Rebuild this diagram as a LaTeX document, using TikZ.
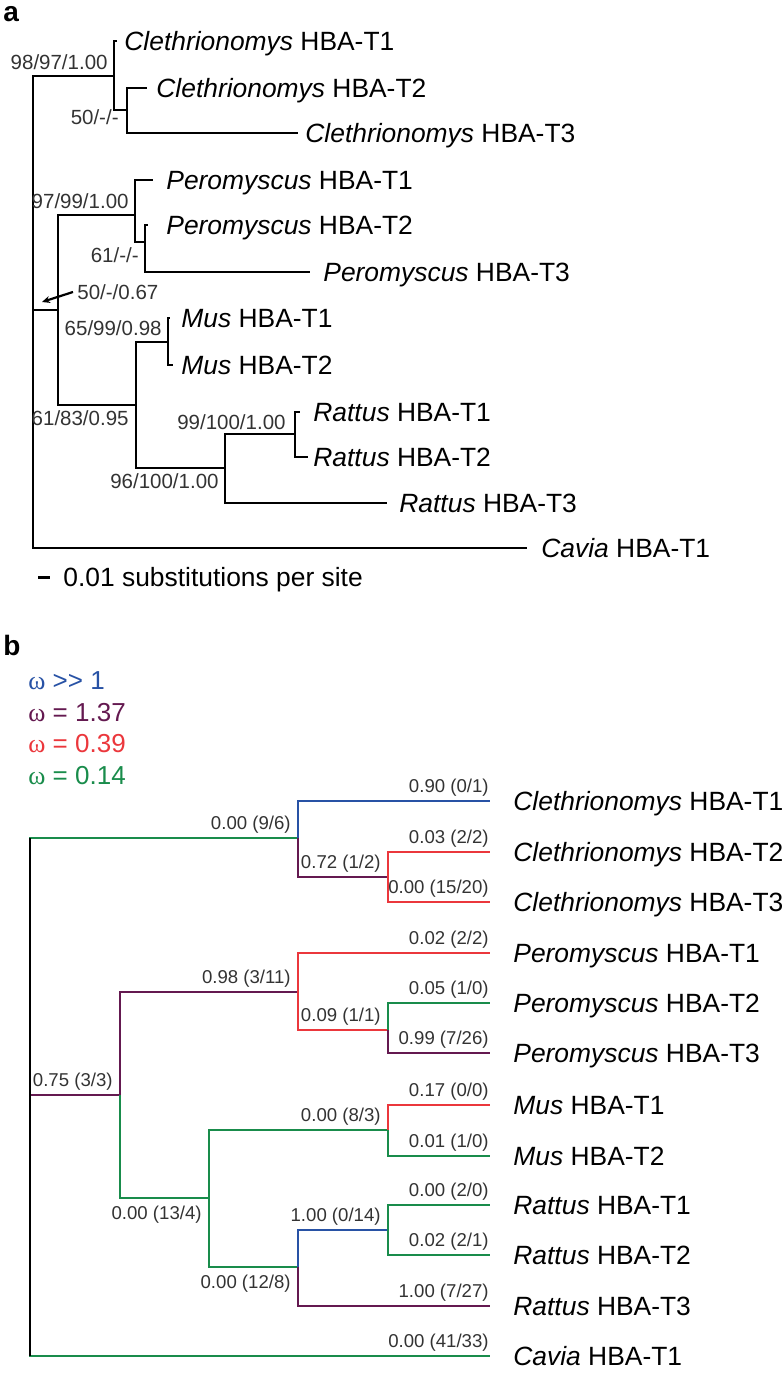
\documentclass[tikz,border=0pt]{standalone}
\usepackage{fontspec}
\setmainfont{Liberation Sans}
\newfontfamily\omegafont{Liberation Serif}
\usetikzlibrary{positioning,arrows.meta}

\definecolor{omblue}{RGB}{40,82,165}
\definecolor{ompurple}{RGB}{100,25,80}
\definecolor{omred}{RGB}{235,55,60}
\definecolor{omgreen}{RGB}{25,140,75}

\tikzset{
  panlab/.style={anchor=base west, inner sep=0pt, font=\fontsize{14}{16}\selectfont\bfseries},
  leaf/.style={anchor=west, inner sep=0pt, text height=9.5pt, text depth=0pt, font=\fontsize{13.2}{15}\selectfont},
  suplab/.style={anchor=east, inner sep=0pt, text height=7.4pt, text depth=0pt, text=black!80, font=\fontsize{10.25}{12}\selectfont},
  supup/.style={suplab, xshift=-2.5pt, yshift=7pt},
  supdn/.style={suplab, xshift=-2.5pt, yshift=-6.5pt},
  brlab/.style={anchor=east, inner sep=0pt, text height=6.7pt, text depth=0pt, text=black!80, font=\fontsize{9.3}{11}\selectfont},
  bup/.style={brlab, xshift=-3pt, yshift=7.5pt},
  bleaf/.style={brlab, xshift=0pt, yshift=7.5pt},
  bdn/.style={brlab, xshift=-3pt, yshift=-7.5pt},
  legend/.style={anchor=west, inner sep=0pt, text height=9.5pt, text depth=0pt, font=\fontsize{13}{15}\selectfont}
}

\begin{document}
\begin{tikzpicture}[x=0.5pt, y=-0.5pt, line width=1.4pt]
        \useasboundingbox (0,0) rectangle (783,1374);

        % a
        \node[panlab] (pa) at (2,22) {a};

        \coordinate (aroot) at (33,310);
        \coordinate (aC) at (114,76);
        \coordinate (aC1) at (117,41);
        \coordinate (aCx) at (127,110);
        \coordinate (aC2) at (147,88);
        \coordinate (aC3) at (298,133);
        \coordinate (aPMR) at (58,310);
        \coordinate (aP) at (135,215);
        \coordinate (aP1) at (153,180);
        \coordinate (aPx) at (145,242);
        \coordinate (aP2) at (148,225);
        \coordinate (aP3) at (310,272);
        \coordinate (aMR) at (136,405);
        \coordinate (aM) at (168,342);
        \coordinate (aM1) at (170,318);
        \coordinate (aM2) at (173,365);
        \coordinate (aR) at (225,468);
        \coordinate (aRx) at (295,434);
        \coordinate (aR1) at (300,412);
        \coordinate (aR2) at (308,457);
        \coordinate (aR3) at (387,503);
        \coordinate (aCav) at (527,548);

        \draw (aroot) |- (aC);
        \draw (aroot) |- (aPMR);
        \draw (aroot) |- (aCav);
        \draw (aC) |- (aC1);
        \draw (aC) |- (aCx);
        \draw (aCx) |- (aC2);
        \draw (aCx) |- (aC3);
        \draw (aPMR) |- (aP);
        \draw (aPMR) |- (aMR);
        \draw (aP) |- (aP1);
        \draw (aP) |- (aPx);
        \draw (aPx) |- (aP2);
        \draw (aPx) |- (aP3);
        \draw (aMR) |- (aM);
        \draw (aMR) |- (aR);
        \draw (aM) |- (aM1);
        \draw (aM) |- (aM2);
        \draw (aR) |- (aRx);
        \draw (aR) |- (aR3);
        \draw (aRx) |- (aR1);
        \draw (aRx) |- (aR2);

        \node[leaf, right=3pt of aC1] (taC1) {\itshape Clethrionomys\/\upshape{} HBA-T1};
        \node[leaf, right=4pt of aC2] (taC2) {\itshape Clethrionomys\/\upshape{} HBA-T2};
        \node[leaf, right=3pt of aC3] (taC3) {\itshape Clethrionomys\/\upshape{} HBA-T3};
        \node[leaf, right=6pt of aP1] (taP1) {\itshape Peromyscus\/\upshape{} HBA-T1};
        \node[leaf, right=8.5pt of aP2] (taP2) {\itshape Peromyscus\/\upshape{} HBA-T2};
        \node[leaf, right=6pt of aP3] (taP3) {\itshape Peromyscus\/\upshape{} HBA-T3};
        \node[leaf, right=5pt of aM1] (taM1) {\itshape Mus\/\upshape{} HBA-T1};
        \node[leaf, right=3.5pt of aM2] (taM2) {\itshape Mus\/\upshape{} HBA-T2};
        \node[leaf, right=6pt of aR1] (taR1) {\itshape Rattus\/\upshape{} HBA-T1};
        \node[leaf, right=2pt of aR2] (taR2) {\itshape Rattus\/\upshape{} HBA-T2};
        \node[leaf, right=5.5pt of aR3] (taR3) {\itshape Rattus\/\upshape{} HBA-T3};
        \node[leaf, right=6.5pt of aCav] (taCav) {\itshape Cavia\/\upshape{} HBA-T1};

        \node[supup] (saC) at (aC) {98/97/1.00};
        \node[suplab, xshift=-3.5pt, yshift=-3.5pt] (saCx) at (aCx) {50/-/-};
        \node[supup] (saP) at (aP) {97/99/1.00};
        \node[supdn] (saPx) at (aPx) {61/-/-};
        \node[supup] (saM) at (aM) {65/99/0.98};
        \node[supdn, xshift=-0.5pt] (saMR) at (aMR) {61/83/0.95};
        \node[supdn] (saR) at (aR) {96/100/1.00};
        \node[supup, xshift=-1.5pt, yshift=-1pt] (saRx) at (aRx) {99/100/1.00};

        \coordinate (aarr) at (42,302);
        \node[suplab, anchor=west, inner xsep=1.5pt] (sarr) at (73,292) {50/-/0.67};
        \draw[line width=1.1pt, -{Stealth[length=4pt, width=3.5pt]}] (sarr.west) -- (aarr);

        \coordinate (sb1) at (38,577);
        \coordinate (sb2) at (50,577);
        \draw[line width=1.5pt] (sb1) -- (sb2);
        \node[leaf, right=6pt of sb2] (tsb) {0.01 substitutions per site};

        % b
        \node[panlab] (pb) at (2,655) {b};

        \node[legend, text=omblue] (w1) at (27,680) {{\omegafont ω} >{}> 1};
        \node[legend, text=ompurple] (w2) at (27,712) {{\omegafont ω} = 1.37};
        \node[legend, text=omred] (w3) at (27,743) {{\omegafont ω} = 0.39};
        \node[legend, text=omgreen] (w4) at (27,775) {{\omegafont ω} = 0.14};

        \coordinate (broot) at (30,1095);
        \coordinate (bCb) at (298,838);
        \coordinate (bC1) at (490,801);
        \coordinate (bCc) at (388,877);
        \coordinate (bC2) at (490,852);
        \coordinate (bC3) at (490,902);
        \coordinate (bPMR) at (120,1095);
        \coordinate (bPa) at (298,992);
        \coordinate (bP1) at (490,953);
        \coordinate (bPb) at (388,1030);
        \coordinate (bP2) at (490,1003);
        \coordinate (bP3) at (490,1053);
        \coordinate (bMR) at (209,1198);
        \coordinate (bM) at (388,1130);
        \coordinate (bM1) at (490,1105);
        \coordinate (bM2) at (490,1156);
        \coordinate (bRb) at (298,1267);
        \coordinate (bRx) at (388,1230);
        \coordinate (bR1) at (490,1205);
        \coordinate (bR2) at (490,1255);
        \coordinate (bR3) at (490,1306);
        \coordinate (bCav) at (490,1356);

        \draw[omgreen] (broot) |- (bCb);
        \draw[ompurple] (broot) |- (bPMR);
        \draw[omgreen] (broot) |- (bCav);
        \draw[black] (bCb -| broot) -- (bCav -| broot);
        \draw[omblue] (bCb) |- (bC1);
        \draw[ompurple] (bCb) |- (bCc);
        \draw[omred] (bCc) |- (bC2);
        \draw[omred] (bCc) |- (bC3);
        \draw[ompurple] (bPMR) |- (bPa);
        \draw[omgreen] (bPMR) |- (bMR);
        \draw[omred] (bPa) |- (bP1);
        \draw[omred] (bPa) |- (bPb);
        \draw[omgreen] (bPb) |- (bP2);
        \draw[ompurple] (bPb) |- (bP3);
        \draw[omgreen] (bMR) |- (bM);
        \draw[omgreen] (bMR) |- (bRb);
        \draw[omred] (bM) |- (bM1);
        \draw[omgreen] (bM) |- (bM2);
        \draw[omblue] (bRb) |- (bRx);
        \draw[ompurple] (bRb) |- (bR3);
        \draw[omgreen] (bRx) |- (bR1);
        \draw[omgreen] (bRx) |- (bR2);

        \node[bup] (lCb) at (bCb) {0.00 (9/6)};
        \node[bleaf] (lC1) at (bC1) {0.90 (0/1)};
        \node[bup] (lCc) at (bCc) {0.72 (1/2)};
        \node[bleaf] (lC2) at (bC2) {0.03 (2/2)};
        \node[bleaf] (lC3) at (bC3) {0.00 (15/20)};
        \node[bup] (lPMR) at (bPMR) {0.75 (3/3)};
        \node[bup] (lPa) at (bPa) {0.98 (3/11)};
        \node[bleaf] (lP1) at (bP1) {0.02 (2/2)};
        \node[bup] (lPb) at (bPb) {0.09 (1/1)};
        \node[bleaf] (lP2) at (bP2) {0.05 (1/0)};
        \node[bleaf] (lP3) at (bP3) {0.99 (7/26)};
        \node[bdn] (lMR) at (bMR) {0.00 (13/4)};
        \node[bup] (lM) at (bM) {0.00 (8/3)};
        \node[bleaf] (lM1) at (bM1) {0.17 (0/0)};
        \node[bleaf] (lM2) at (bM2) {0.01 (1/0)};
        \node[bdn] (lRb) at (bRb) {0.00 (12/8)};
        \node[bup] (lRx) at (bRx) {1.00 (0/14)};
        \node[bleaf] (lR1) at (bR1) {0.00 (2/0)};
        \node[bleaf] (lR2) at (bR2) {0.02 (2/1)};
        \node[bleaf] (lR3) at (bR3) {1.00 (7/27)};
        \node[bleaf] (lCav) at (bCav) {0.00 (41/33)};

        \node[leaf, right=11pt of bC1] (tbC1) {\itshape Clethrionomys\/\upshape{} HBA-T1};
        \node[leaf, right=11pt of bC2] (tbC2) {\itshape Clethrionomys\/\upshape{} HBA-T2};
        \node[leaf, right=11pt of bC3] (tbC3) {\itshape Clethrionomys\/\upshape{} HBA-T3};
        \node[leaf, right=11pt of bP1] (tbP1) {\itshape Peromyscus\/\upshape{} HBA-T1};
        \node[leaf, right=11pt of bP2] (tbP2) {\itshape Peromyscus\/\upshape{} HBA-T2};
        \node[leaf, right=11pt of bP3] (tbP3) {\itshape Peromyscus\/\upshape{} HBA-T3};
        \node[leaf, right=11pt of bM1] (tbM1) {\itshape Mus\/\upshape{} HBA-T1};
        \node[leaf, right=11pt of bM2] (tbM2) {\itshape Mus\/\upshape{} HBA-T2};
        \node[leaf, right=11pt of bR1] (tbR1) {\itshape Rattus\/\upshape{} HBA-T1};
        \node[leaf, right=11pt of bR2] (tbR2) {\itshape Rattus\/\upshape{} HBA-T2};
        \node[leaf, right=11pt of bR3] (tbR3) {\itshape Rattus\/\upshape{} HBA-T3};
        \node[leaf, right=11pt of bCav] (tbCav) {\itshape Cavia\/\upshape{} HBA-T1};
    \end{tikzpicture}
\end{document}
